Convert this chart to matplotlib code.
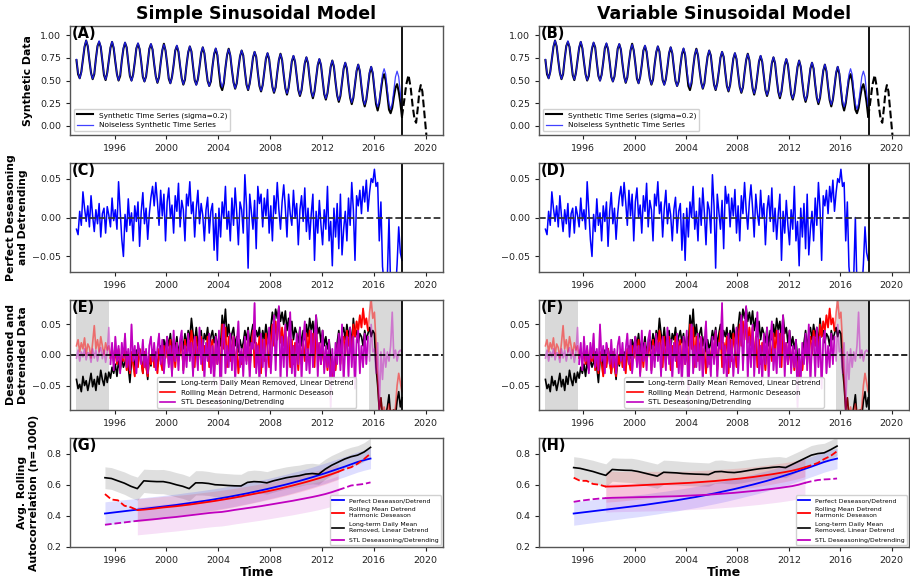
import numpy as np
import matplotlib
matplotlib.use("Agg")
import matplotlib.pyplot as plt

# ---------------- data ----------------
# time grid (8 samples / year) 1993.05 .. 2018.175
t = 1993.05 + 0.125 * np.arange(202)

noiseless = [
 .733,.585,.523,.585,.733,.881,.943,.881,
 .728,.580,.518,.580,.728,.876,.938,.876,
 .720,.572,.510,.572,.720,.868,.930,.868,
 .713,.565,.503,.565,.713,.861,.923,.861,
 .705,.557,.495,.557,.705,.853,.915,.853,
 .697,.549,.487,.549,.697,.845,.907,.845,
 .688,.540,.478,.540,.688,.836,.898,.836,
 .679,.531,.469,.531,.679,.827,.889,.827,
 .669,.521,.459,.521,.669,.817,.879,.817,
 .659,.511,.449,.511,.659,.807,.869,.807,
 .648,.500,.438,.500,.648,.796,.858,.796,
 .636,.488,.426,.488,.636,.784,.846,.784,
 .623,.475,.413,.475,.623,.771,.833,.771,
 .610,.462,.400,.462,.610,.758,.820,.758,
 .596,.448,.386,.448,.596,.744,.806,.744,
 .582,.434,.372,.434,.582,.730,.792,.730,
 .566,.418,.356,.418,.566,.714,.776,.714,
 .549,.401,.339,.401,.549,.697,.759,.697,
 .531,.383,.321,.383,.531,.679,.741,.679,
 .511,.363,.301,.363,.511,.659,.721,.659,
 .490,.342,.280,.342,.490,.638,.700,.638,
 .468,.320,.258,.320,.468,.616,.678,.616,
 .445,.297,.235,.297,.445,.593,.655,.593,
 .420,.272,.210,.272,.420,.568,.630,.568,
 .393,.245,.183,.245,.393,.541,.603,.541,
 .365,.217]

synthetic = [
 .725,.570,.525,.595,.735,.870,.940,.875,
 .720,.585,.515,.570,.740,.880,.925,.870,
 .715,.560,.505,.585,.725,.860,.925,.855,
 .705,.570,.500,.550,.720,.850,.915,.865,
 .700,.550,.500,.565,.700,.855,.905,.845,
 .705,.540,.490,.545,.690,.850,.900,.840,
 .680,.545,.475,.535,.695,.830,.905,.830,
 .685,.520,.470,.540,.670,.830,.880,.815,
 .660,.525,.455,.510,.675,.810,.875,.820,
 .655,.505,.455,.515,.650,.800,.865,.800,
 .640,.495,.440,.490,.655,.790,.850,.780,
 .600,.440,.395,.470,.640,.780,.850,.775,
 .615,.480,.410,.470,.630,.765,.830,.775,
 .605,.455,.395,.470,.600,.750,.815,.760,
 .590,.440,.380,.450,.600,.740,.800,.735,
 .575,.430,.365,.425,.585,.725,.795,.725,
 .560,.415,.345,.420,.560,.710,.770,.705,
 .545,.395,.330,.395,.545,.690,.755,.690,
 .520,.375,.305,.380,.525,.670,.735,.670,
 .505,.350,.290,.360,.505,.650,.720,.650,
 .480,.335,.265,.330,.485,.630,.695,.630,
 .455,.310,.240,.310,.460,.605,.675,.600,
 .430,.285,.215,.290,.430,.580,.650,.575,
 .400,.240,.170,.250,.390,.520,.570,.500,
 .340,.180,.140,.200,.320,.420,.460,.380,
 .260,.100]

forecast_t = [2018.175, 2018.35, 2018.5, 2018.68, 2018.85, 2019.0, 2019.15, 2019.27,
              2019.4, 2019.52, 2019.63, 2019.75, 2019.9, 2020.08]
forecast_v = [0.10, 0.28, 0.45, 0.56, 0.42, 0.22, 0.07, 0.035,
              0.20, 0.38, 0.45, 0.38, 0.15, -0.13]

perfect = [
 -0.015,-0.022,0.008,-0.010,0.033,0.012,-0.005,0.015,
 -0.012,0.028,0.002,-0.018,0.010,-0.008,0.018,-0.025,
 0.005,0.012,-0.020,0.014,0.003,-0.012,0.025,-0.004,
 0.010,-0.015,0.046,0.008,-0.028,-0.050,0.004,-0.018,
 0.024,-0.010,0.006,-0.030,0.015,-0.005,0.020,-0.037,
 0.008,0.032,-0.008,0.012,-0.028,0.005,0.026,0.040,
 0.015,0.045,0.020,-0.010,0.035,0.002,0.030,-0.030,
 0.020,0.038,0.000,0.016,-0.020,0.028,0.008,0.044,
 -0.012,0.022,0.010,-0.030,0.030,0.015,0.046,0.005,
 0.020,-0.025,0.012,0.035,-0.008,0.018,0.003,-0.030,
 0.010,0.026,-0.020,0.008,0.018,-0.042,0.005,-0.055,
 0.012,-0.025,0.020,0.000,0.040,-0.015,0.008,-0.030,
 0.025,-0.010,0.038,0.005,-0.035,0.020,0.010,-0.020,
 0.055,0.015,-0.065,0.030,0.008,-0.015,0.022,-0.040,
 0.040,0.018,0.030,-0.012,0.025,0.002,0.036,-0.020,
 0.015,-0.030,0.028,0.005,0.045,0.010,-0.015,0.020,
 0.042,0.012,-0.025,0.030,0.005,-0.010,0.035,0.000,
 0.018,-0.035,0.010,0.028,-0.005,0.038,-0.018,0.012,
 -0.028,0.005,0.030,-0.055,0.008,-0.020,0.022,-0.010,
 -0.035,0.010,-0.015,0.040,-0.030,-0.005,-0.062,0.012,
 -0.025,0.018,-0.040,0.030,-0.048,-0.015,0.008,-0.030,
 0.025,-0.010,0.045,0.010,-0.055,0.028,0.015,0.035,
 0.005,0.040,0.020,0.048,0.008,0.032,0.050,0.045,
 0.062,0.040,0.045,-0.030,0.020,-0.063,-0.085,-0.100,
 -0.075,0.000,-0.090,-0.100,-0.085,-0.095,-0.060,-0.012,
 -0.045,-0.055]

longterm = [
 -0.040,-0.055,-0.048,-0.060,-0.035,-0.050,-0.042,-0.058,
 -0.045,-0.030,-0.052,-0.040,-0.058,-0.035,-0.048,-0.025,
 -0.040,-0.050,-0.030,-0.045,-0.028,-0.038,-0.020,-0.030,
 -0.015,-0.035,-0.010,-0.025,-0.005,-0.020,-0.012,0.005,
 -0.020,-0.045,-0.010,0.000,-0.025,0.008,-0.015,0.010,
 -0.005,-0.030,0.005,-0.012,-0.040,0.000,-0.018,0.008,
 -0.010,0.005,-0.020,0.000,0.015,-0.005,0.025,0.010,
 0.030,0.015,0.035,0.005,0.025,0.010,0.030,0.000,
 0.020,0.030,0.010,0.035,0.015,0.040,0.025,0.060,
 0.035,0.020,0.045,0.015,0.030,0.040,0.010,0.035,
 0.025,0.045,0.015,0.030,0.040,0.020,0.035,0.010,
 0.030,0.015,0.065,0.040,0.075,0.030,0.050,0.020,
 0.035,0.045,0.015,0.030,0.005,0.025,0.010,0.020,
 0.040,0.025,0.045,0.015,0.035,0.050,0.020,0.040,
 0.030,0.045,0.010,0.040,0.025,0.050,0.030,0.020,
 0.045,0.070,0.050,0.075,0.060,0.078,0.055,0.070,
 0.050,0.072,0.040,0.060,0.030,0.055,0.025,0.045,
 0.035,0.020,0.045,0.015,0.040,0.025,0.050,0.030,
 0.060,0.040,0.055,0.025,0.065,0.035,0.045,0.020,
 0.040,0.015,0.030,0.010,0.025,-0.005,-0.020,-0.025,
 -0.010,0.020,0.040,0.010,0.035,0.045,0.025,0.050,
 0.030,0.045,0.015,0.060,0.030,0.040,0.020,0.035,
 0.030,0.015,0.040,0.025,0.035,0.045,0.030,0.040,
 0.035,-0.020,-0.050,-0.090,-0.070,-0.100,-0.095,-0.100,
 -0.085,-0.065,-0.100,-0.095,-0.090,-0.100,-0.075,-0.060,
 -0.085,-0.070]

rolling = [
 0.015,0.025,0.005,0.020,0.010,0.028,0.000,0.018,
 0.012,-0.005,0.020,0.048,0.010,0.025,0.005,0.030,
 0.015,0.000,0.020,0.008,0.015,-0.005,0.010,-0.010,
 0.005,-0.015,0.010,-0.020,0.000,-0.010,0.015,-0.025,
 -0.005,-0.030,0.005,-0.015,-0.035,0.000,-0.020,0.010,
 -0.010,-0.030,0.005,-0.020,-0.035,0.000,-0.015,0.008,
 -0.020,-0.005,-0.030,0.010,-0.010,-0.025,0.015,-0.005,
 0.020,-0.015,0.025,-0.030,0.010,-0.020,0.020,-0.010,
 0.005,0.020,-0.025,0.025,-0.010,0.030,0.005,0.040,
 0.015,-0.020,0.030,-0.015,0.020,0.030,-0.025,0.015,
 0.000,0.030,-0.020,0.015,0.025,-0.030,0.020,-0.015,
 0.010,-0.030,0.050,0.010,0.045,-0.020,0.030,-0.010,
 0.015,0.030,-0.025,0.010,-0.030,0.005,-0.015,0.000,
 0.020,-0.010,0.035,-0.025,0.015,0.040,-0.020,0.020,
 0.005,0.030,-0.030,0.025,-0.010,0.035,0.010,-0.020,
 0.020,0.050,0.015,0.055,0.025,0.060,0.020,0.045,
 0.015,0.045,-0.010,0.030,-0.020,0.025,-0.015,0.020,
 0.000,-0.025,0.025,-0.015,0.020,-0.010,0.035,0.000,
 0.040,0.005,0.035,-0.020,0.045,0.000,0.020,-0.015,
 0.015,-0.020,0.010,-0.025,0.005,-0.030,-0.035,-0.020,
 -0.025,0.005,0.020,-0.015,0.025,0.030,0.000,0.040,
 0.015,0.035,0.000,0.050,0.030,0.055,0.040,0.065,
 0.045,0.076,0.050,0.060,0.040,0.070,0.090,0.060,
 0.070,0.020,-0.040,-0.090,-0.070,-0.100,-0.085,-0.100,
 -0.095,-0.080,-0.100,-0.090,-0.100,-0.085,-0.050,-0.030,
 -0.045,-0.060]

stl = [
 -0.005,0.008,-0.010,0.005,-0.003,0.010,-0.008,0.004,
 0.002,-0.012,0.010,-0.005,0.008,-0.010,0.005,0.012,
 -0.006,0.008,-0.012,0.005,0.045,-0.015,0.020,-0.025,
 0.030,-0.010,0.015,-0.030,0.020,-0.005,0.035,-0.020,
 0.010,-0.025,0.050,-0.010,0.015,-0.030,0.020,0.005,
 -0.015,0.025,-0.020,0.010,-0.030,0.015,0.030,-0.010,
 0.020,-0.025,0.010,0.035,-0.015,0.025,-0.030,0.005,
 0.030,-0.020,0.015,-0.035,0.040,-0.010,0.020,-0.025,
 0.025,0.040,-0.030,0.015,-0.020,0.035,-0.010,0.020,
 -0.035,0.030,0.010,-0.025,0.045,-0.015,0.025,-0.040,
 0.020,-0.010,0.035,-0.030,0.015,-0.050,0.030,-0.015,
 0.040,-0.085,0.020,0.050,-0.030,0.015,-0.020,0.035,
 -0.025,0.030,-0.045,0.020,0.055,-0.020,0.010,-0.035,
 0.030,-0.015,0.040,-0.040,0.020,0.010,0.085,-0.030,
 0.015,-0.045,0.035,-0.020,0.025,-0.035,0.010,0.045,
 -0.030,0.020,0.065,-0.025,0.040,0.080,-0.040,0.030,
 -0.020,0.050,-0.035,0.025,0.070,-0.030,0.015,-0.045,
 0.035,-0.015,0.045,-0.040,0.020,0.055,-0.025,0.010,
 -0.030,0.040,-0.020,0.030,0.065,-0.035,0.020,-0.015,
 0.040,-0.030,0.015,-0.020,0.025,-0.085,0.010,-0.040,
 0.020,-0.015,0.035,-0.025,0.050,-0.045,0.015,0.030,
 -0.035,0.045,-0.020,0.030,-0.055,0.025,0.040,-0.030,
 0.015,-0.020,0.035,-0.015,0.030,-0.010,0.050,0.005,
 0.010,-0.030,0.020,-0.090,0.005,-0.040,0.010,-0.020,
 0.005,-0.010,0.015,0.070,-0.005,0.008,-0.010,0.005,
 0.008,0.005]

# rolling autocorrelation (half-year grid 1995.25 .. 2015.75)
t_ac = 1995.25 + 0.5 * np.arange(42)

ac_perfect = [.415,.420,.425,.430,.435,.440,.445,.450,.455,.460,.465,.470,.476,.482,
              .488,.494,.500,.507,.514,.521,.529,.537,.545,.554,.563,.572,.582,.592,
              .602,.613,.624,.636,.648,.661,.674,.688,.702,.716,.731,.746,.758,.768]
sd_perfect = [.075,.075,.074,.074,.073,.073,.072,.072,.071,.071,.071,.070,.070,.070,
              .069,.069,.069,.068,.068,.068,.068,.067,.067,.067,.067,.066,.066,.066,
              .066,.066,.065,.065,.065,.065,.065,.065,.065,.065,.065,.065,.065,.065]

# Simple model (G)
ac_roll_s = [.540,.505,.500,.465,.455,.437,.440,.444,.449,.454,.458,.462,.467,.472,
             .478,.484,.490,.496,.503,.510,.517,.525,.533,.541,.549,.557,.566,.575,
             .585,.595,.606,.617,.629,.641,.654,.668,.683,.700,.712,.735,.765,.800]
sd_roll_s = [.075,.075,.075,.075,.075,.075,.074,.073,.072,.071,.070,.069,.068,.067,
             .066,.065,.064,.063,.062,.061,.060,.059,.058,.057,.056,.055,.055,.054,
             .054,.053,.053,.052,.052,.051,.051,.050,.050,.050,.050,.050,.050,.050]
ac_long_s = [.645,.640,.625,.610,.590,.575,.625,.622,.620,.620,.612,.600,.590,.575,
             .612,.612,.608,.600,.598,.595,.593,.592,.615,.620,.618,.612,.625,.635,
             .645,.652,.658,.668,.672,.668,.700,.725,.745,.765,.780,.790,.810,.840]
sd_long = [.070,.070,.071,.072,.073,.074,.075,.076,.077,.078,.078,.078,.078,.078,
           .078,.078,.077,.077,.076,.076,.075,.075,.074,.074,.073,.072,.072,.071,
           .070,.069,.068,.067,.066,.065,.064,.063,.062,.062,.061,.061,.060,.060]
ac_stl_s = [.343,.348,.353,.358,.363,.368,.372,.376,.380,.385,.389,.393,.398,.403,
            .408,.413,.418,.422,.425,.431,.438,.444,.450,.456,.462,.469,.476,.483,
            .490,.497,.505,.513,.521,.530,.540,.552,.566,.580,.595,.600,.605,.615]
sd_stl = [.090,.090,.090,.090,.090,.090,.090,.090,.090,.090,.090,.090,.090,.090,
          .090,.090,.090,.090,.090,.090,.090,.090,.090,.090,.090,.090,.090,.090,
          .090,.090,.090,.090,.090,.090,.090,.090,.090,.090,.090,.090,.090,.090]

# Variable model (H)
ac_roll_v = [.645,.625,.625,.605,.600,.588,.589,.590,.592,.594,.596,.598,.600,.602,
             .604,.606,.608,.610,.612,.615,.618,.621,.624,.628,.632,.636,.640,.645,
             .650,.656,.662,.668,.675,.682,.690,.700,.712,.725,.740,.765,.785,.815]
sd_roll_v = [.100,.100,.100,.100,.100,.100,.098,.096,.094,.092,.090,.088,.086,.084,
             .082,.080,.078,.077,.076,.075,.074,.073,.072,.071,.070,.069,.068,.067,
             .066,.065,.064,.063,.062,.061,.060,.060,.060,.060,.060,.060,.060,.060]
ac_long_v = [.710,.705,.695,.685,.672,.660,.698,.695,.693,.692,.685,.675,.665,.655,
             .680,.678,.676,.672,.670,.668,.667,.665,.683,.685,.680,.678,.683,.690,
             .697,.703,.707,.712,.715,.710,.730,.750,.770,.790,.800,.805,.825,.848]
ac_stl_v = [.490,.497,.502,.507,.511,.514,.516,.517,.518,.519,.520,.521,.522,.523,
            .524,.525,.526,.528,.530,.532,.534,.536,.539,.542,.545,.548,.552,.556,
            .560,.564,.569,.574,.579,.585,.591,.600,.612,.622,.630,.634,.636,.640]

cut_line = 2018.2
spans = [(1993.05, 1995.6), (2015.65, 2018.2)]
solid_window = (1997.75, 2013.25)

# ---------------- plotting ----------------
plt.rcParams['font.family'] = ['DejaVu Sans']
fig = plt.figure(figsize=(9.1, 5.8), dpi=100)

col_x = [(0.0769, 0.410), (0.5923, 0.4066)]
row_y = [(0.7672, 0.1879), (0.5310, 0.1879), (0.2931, 0.1897), (0.0569, 0.1879)]
XL = (1992.55, 2021.35)
TICKS = [1996, 2000, 2004, 2008, 2012, 2016, 2020]
labfs = 7.8

def style(ax):
    ax.set_xlim(*XL)
    ax.set_xticks(TICKS)
    ax.set_xticklabels([str(v) for v in TICKS])
    ax.tick_params(labelsize=6.8, length=3, width=0.8, colors='#222222')
    for s in ax.spines.values():
        s.set_color('#555555')
        s.set_linewidth(1.0)

def plabel(ax, s):
    ax.text(0.004, 1.0, s, transform=ax.transAxes, ha='left', va='top',
            fontsize=10.5, fontweight='bold')

t = np.asarray(t)
mid = (t >= spans[0][1]) & (t <= spans[1][0])
t_ac = np.asarray(t_ac)
sol = (t_ac >= solid_window[0] - 1e-9) & (t_ac <= solid_window[1] + 1e-9)
d1 = t_ac <= solid_window[0] + 1e-9
d2 = t_ac >= solid_window[1] - 1e-9

for c, (x0, w) in enumerate(col_x):
    letters = ['AB', 'CD', 'EF', 'GH']
    axes = [fig.add_axes([x0, y0, w, h]) for (y0, h) in row_y]
    aA, aC, aE, aG = axes

    # --- A/B
    aA.plot(t, synthetic, color='k', lw=1.5, label='Synthetic Time Series (sigma=0.2)')
    aA.plot(t, noiseless, color='#2020ff', lw=0.9, alpha=0.85, label='Noiseless Synthetic Time Series')
    aA.plot(forecast_t, forecast_v, color='k', lw=1.5, ls='--')
    aA.axvline(cut_line, color='k', lw=1.3)
    aA.set_ylim(-0.1, 1.1)
    aA.set_yticks([0.0, 0.25, 0.5, 0.75, 1.0])
    aA.set_yticklabels(['0.00', '0.25', '0.50', '0.75', '1.00'])
    aA.legend(loc='lower left', fontsize=5.3, handlelength=2.2, framealpha=0.9)
    aA.set_title('Simple Sinusoidal Model' if c == 0 else 'Variable Sinusoidal Model',
                 fontsize=12.5, fontweight='bold', pad=5)

    # --- C/D
    aC.plot(t, perfect, color='b', lw=1.1)
    aC.axhline(0, color='#333333', lw=1.3, ls='--')
    aC.axvline(cut_line, color='k', lw=1.3)
    aC.set_ylim(-0.07, 0.07)
    aC.set_yticks([-0.05, 0.0, 0.05])
    aC.set_yticklabels(['\u22120.05', '0.00', '0.05'])

    # --- E/F
    for a, b in spans:
        aE.axvspan(a, b, color='#d9d9d9', lw=0)
    aE.plot(t, longterm, color='k', lw=1.2, label='Long-term Daily Mean Removed, Linear Detrend')
    aE.plot(t, rolling, color='r', lw=1.2, alpha=0.5)
    aE.plot(t[mid], np.asarray(rolling)[mid], color='r', lw=1.2, label='Rolling Mean Detrend, Harmonic Deseason')
    aE.plot(t, stl, color='m', lw=1.2, alpha=0.45)
    aE.plot(t[mid], np.asarray(stl)[mid], color='m', lw=1.2, label='STL Deseasoning/Detrending')
    aE.axhline(0, color='k', lw=1.2, ls='--')
    aE.axvline(cut_line, color='k', lw=1.3)
    aE.set_ylim(-0.09, 0.09)
    aE.set_yticks([-0.05, 0.0, 0.05])
    aE.set_yticklabels(['\u22120.05', '0.00', '0.05'])
    aE.legend(loc='lower center', fontsize=5.1, handlelength=2.2, framealpha=0.9,
              borderaxespad=0.3)

    # --- G/H
    roll = np.asarray(ac_roll_s if c == 0 else ac_roll_v)
    sdr = np.asarray(sd_roll_s if c == 0 else sd_roll_v)
    lng = np.asarray(ac_long_s if c == 0 else ac_long_v)
    stv = np.asarray(ac_stl_s if c == 0 else ac_stl_v)
    per = np.asarray(ac_perfect)
    sdp = np.asarray(sd_perfect)
    sdl = np.asarray(sd_long)
    sds = np.asarray(sd_stl)

    aG.fill_between(t_ac, lng - sdl, lng + sdl, color='gray', alpha=0.25, lw=0)
    aG.fill_between(t_ac, per - sdp, per + sdp, color='b', alpha=0.13, lw=0)
    aG.fill_between(t_ac[sol], (roll - sdr)[sol], (roll + sdr)[sol], color='r', alpha=0.12, lw=0)
    aG.fill_between(t_ac[sol], (stv - sds)[sol], (stv + sds)[sol], color='m', alpha=0.12, lw=0)

    aG.plot(t_ac, per, color='b', lw=1.3, label='Perfect Deseason/Detrend')
    aG.plot(t_ac[sol], roll[sol], color='r', lw=1.3, label='Rolling Mean Detrend\nHarmonic Deseason')
    aG.plot(t_ac[d1], roll[d1], color='r', lw=1.3, ls='--')
    aG.plot(t_ac[d2], roll[d2], color='r', lw=1.3, ls='--')
    aG.plot(t_ac, lng, color='k', lw=1.2, label='Long-term Daily Mean\nRemoved, Linear Detrend')
    aG.plot(t_ac[sol], stv[sol], color='m', lw=1.3, label='STL Deseasoning/Detrending')
    aG.plot(t_ac[d1], stv[d1], color='m', lw=1.3, ls='--')
    aG.plot(t_ac[d2], stv[d2], color='m', lw=1.3, ls='--')
    aG.set_ylim(0.2, 0.9)
    aG.set_yticks([0.2, 0.4, 0.6, 0.8])
    aG.legend(loc='lower right', fontsize=4.4, handlelength=2.0, framealpha=0.9,
              borderaxespad=0.3, labelspacing=0.7)
    aG.set_xlabel('Time', fontsize=9, fontweight='bold', labelpad=1)

    for ax, L in zip(axes, letters):
        style(ax)
        plabel(ax, '(' + L[c] + ')')

    if c == 0:
        aA.set_ylabel('Synthetic Data', fontsize=labfs, fontweight='bold', labelpad=5)
        aC.set_ylabel('Perfect Deseasoning\nand Detrending', fontsize=labfs, fontweight='bold', labelpad=3)
        aE.set_ylabel('Deseasoned and\nDetrended Data', fontsize=labfs, fontweight='bold', labelpad=3)
        aG.set_ylabel('Avg. Rolling\nAutocorrelation (n=1000)', fontsize=labfs, fontweight='bold', labelpad=5)

fig.savefig('out.png', dpi=100)
